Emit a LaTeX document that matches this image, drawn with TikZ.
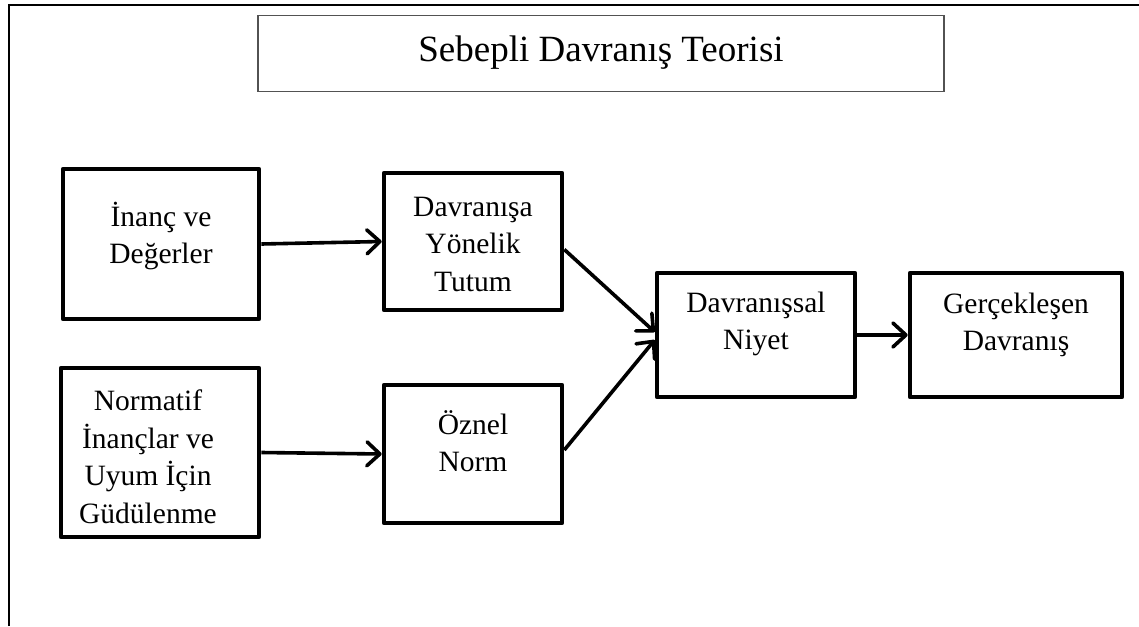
\documentclass[tikz,border=0pt]{standalone}
\usepackage{fontspec}
\setmainfont{Liberation Serif}
\usetikzlibrary{arrows.meta,calc}
\begin{document}
\begin{tikzpicture}[x=1pt,y=-1pt,
  frameline/.style={line width=2.2pt, draw=black},
  titlebox/.style={draw=black!68, line width=1.6pt},
  titletext/.style={font=\fontsize{37}{44}\selectfont, inner sep=0pt},
  box/.style={draw=black, line width=4.6pt, line join=round},
  lbl/.style={font=\fontsize{29.5}{37.5}\selectfont, align=center, inner sep=0pt},
  arr/.style={line width=3.6pt, -{Straight Barb[length=13pt,width=24pt,round]}}
]
\useasboundingbox (0,0) rectangle (1139,626);
% outer frame (only top and left edges visible)
\coordinate (fbl) at (9,626);
\coordinate (ftl) at (9,5);
\coordinate (ftr) at (1139,5);
\draw[frameline] (fbl) -- (ftl) -- (ftr);

% title
\node[titlebox, minimum width=686pt, minimum height=76pt] (tb) at (601,53.5) {};
\node[titletext] (title) at (601,53) {Sebepli Davranış Teorisi};

% boxes
\node[box, minimum width=196pt, minimum height=150pt] (b1) at (161,244) {};
\node[box, minimum width=178pt, minimum height=137pt] (b2) at (473,241.5) {};
\node[box, minimum width=178pt, minimum height=138pt] (b3) at (473,454) {};
\node[box, minimum width=198pt, minimum height=169pt] (b4) at (160,452.5) {};
\node[box, minimum width=198pt, minimum height=124pt] (b5) at (756,335) {};
\node[box, minimum width=212pt, minimum height=124pt] (b6) at (1016,335) {};

% texts
\node[lbl] (t1) at (161,236) {İnanç ve\\Değerler};
\node[lbl] (t2) at (473,244) {Davranışa\\Yönelik\\Tutum};
\node[lbl] (t3) at (473,441) {Öznel\\Norm};
\node[lbl] (t4) at (148,457) {Normatif\\İnançlar ve\\Uyum İçin\\Güdülenme};
\node[lbl] (t5) at (756,324) {Davranışsal\\Niyet};
\node[lbl] (t6) at (1016,325) {Gerçekleşen\\Davranış};

% connectors
\draw[arr] (b1.east) -- (b2.west);
\draw[arr] (b4.east) -- (b3.west);
\draw[arr] ([yshift=-8pt]b2.east) -- ([yshift=3pt]b5.west);
\draw[arr] ([yshift=4pt]b3.east) -- ([yshift=-5pt]b5.west);
\draw[arr] (b5.east) -- (b6.west);
\end{tikzpicture}
\end{document}
